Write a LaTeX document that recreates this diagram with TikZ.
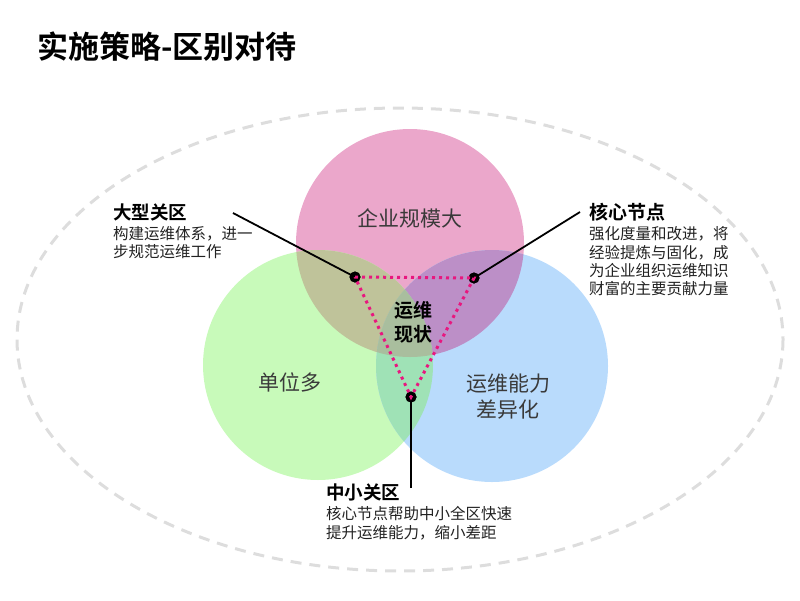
\documentclass[tikz,border=0pt]{standalone}
\usepackage{fontspec}
\setmainfont{Noto Sans CJK SC}[BoldFont={Noto Sans CJK SC Bold}]
\definecolor{pinkc}{HTML}{EBA7CB}
\definecolor{greenc}{HTML}{C8FABA}
\definecolor{bluec}{HTML}{B9DBFC}
\definecolor{pgc}{HTML}{BFC39A}
\definecolor{pbc}{HTML}{BC8FC7}
\definecolor{gbc}{HTML}{9FE2B6}
\definecolor{allc}{HTML}{A9BE9E}
\definecolor{magc}{HTML}{E8177F}
\definecolor{ellc}{HTML}{DDDDDD}
\definecolor{txtgray}{HTML}{3A3A3A}
\definecolor{txtdark}{HTML}{222222}
\begin{document}
\begin{tikzpicture}[x=1pt,y=-1pt,
  circtext/.style={text=txtgray, font=\fontsize{21}{26}\selectfont, align=center, inner sep=0},
  headl/.style={anchor=base west, inner sep=0, font=\bfseries\fontsize{18.5}{22}\selectfont, text=black},
  descl/.style={anchor=base west, inner sep=0, font=\fontsize{15.5}{18.5}\selectfont, text=txtdark},
  blackdot/.style={circle, fill=black, inner sep=0, minimum size=11pt},
  leader/.style={line width=1.8pt, black},
  tri/.style={draw=magc, line width=3pt, dash pattern=on 3pt off 4pt}]
\useasboundingbox (0,0) rectangle (800,600);
% coordinates
\coordinate (P) at (410,243);
\coordinate (G) at (318,365);
\coordinate (B) at (492,366);
% dashed ellipse
\draw[ellc, line width=3pt, dash pattern=on 11pt off 8pt] (400,339.5) ellipse [x radius=383, y radius=231.5];
% circles
\fill[pinkc] (P) circle (114);
\fill[greenc] (G) circle (115);
\fill[bluec] (B) circle (116);
\begin{scope}\clip (P) circle (114); \fill[pgc] (G) circle (115); \end{scope}
\begin{scope}\clip (P) circle (114); \fill[pbc] (B) circle (116); \end{scope}
\begin{scope}\clip (G) circle (115); \fill[gbc] (B) circle (116); \end{scope}
\begin{scope}\clip (P) circle (114); \clip (G) circle (115); \fill[allc] (B) circle (116); \end{scope}
% title
\node[anchor=base west, inner sep=0, font=\bfseries\fontsize{31}{35}\selectfont] (title) at (37,58.5) {实施策略-区别对待};
% circle texts
\node[circtext] (tp) at (410,218) {企业规模大};
\node[circtext] (tg) at (290,382) {单位多};
\node[circtext] (tb) at (508,397) {运维能力\\差异化};
\node[circtext, font=\bfseries\fontsize{19}{24}\selectfont, text=black] (tc) at (413,322) {运维\\现状};
% dots and leader ends
\node[blackdot] (d1) at (355,277) {};
\node[blackdot] (d2) at (474,278) {};
\node[blackdot] (d3) at (411,397) {};
\coordinate (e1) at (233,213);
\coordinate (e2) at (580,212);
\coordinate (e3) at (411,488);
\draw[leader] (e1) -- (d1.center);
\draw[leader] (e2) -- (d2.center);
\draw[leader] (e3) -- (d3.center);
\fill[black] (d1) circle (5.5); \fill[black] (d2) circle (5.5); \fill[black] (d3) circle (5.5);
\draw[tri] (d1.center) -- (d2.center) -- (d3.center) -- cycle;
% labels
\node[headl] (h1) at (113,219) {大型关区};
\node[descl] (h1a) at (113,239) {构建运维体系，进一};
\node[descl] (h1b) at (113,257) {步规范运维工作};
\node[headl, font=\bfseries\fontsize{19}{22}\selectfont] (h2) at (589,219) {核心节点};
\node[descl] (h2a) at (589,239) {强化度量和改进，将};
\node[descl] (h2b) at (589,258) {经验提炼与固化，成};
\node[descl] (h2c) at (589,276) {为企业组织运维知识};
\node[descl] (h2d) at (589,294) {财富的主要贡献力量};
\node[headl] (h3) at (326,499) {中小关区};
\node[descl] (h3a) at (326,519) {核心节点帮助中小全区快速};
\node[descl] (h3b) at (326,538) {提升运维能力，缩小差距};
\end{tikzpicture}
\end{document}
